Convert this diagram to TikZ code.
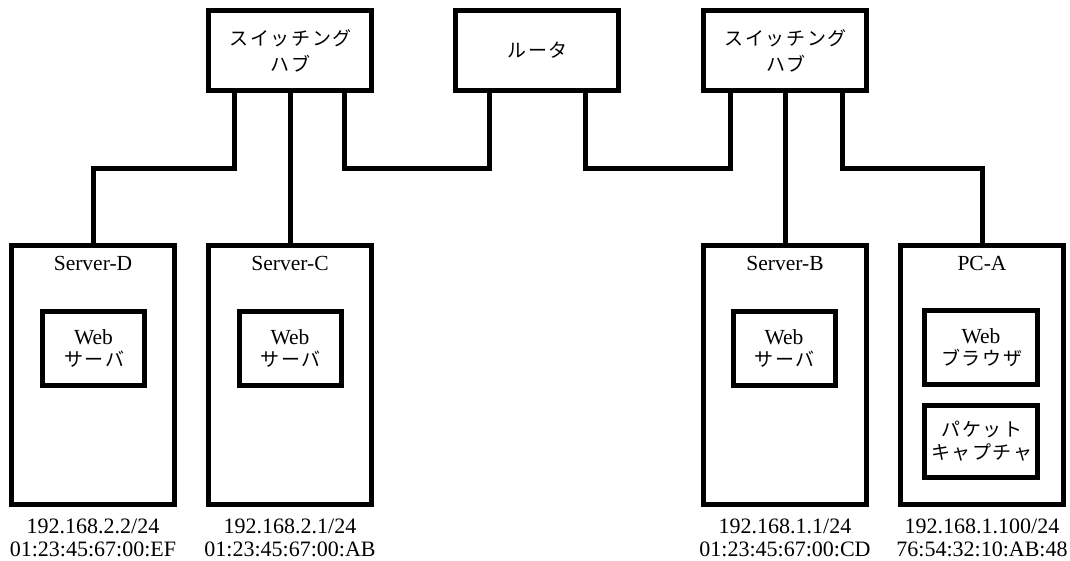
\documentclass[tikz,border=0pt]{standalone}
\usepackage{fontspec}
\setmainfont{Liberation Serif}
\newfontfamily\jpfont{Noto Sans CJK JP}[LetterSpace=8]
\newcommand{\jp}[1]{{\jpfont\fontsize{19}{19}\selectfont #1\kern-1.5pt}}
\begin{document}
\begin{tikzpicture}[x=1pt,y=-1pt,
  box/.style={draw, line width=5pt, minimum width=163pt, minimum height=80pt, inner sep=0pt, align=center, font=\fontsize{21.5}{26}\selectfont},
  host/.style={draw, line width=5pt, minimum width=163pt, minimum height=259pt, inner sep=0pt},
  app/.style={draw, line width=5pt, minimum width=102pt, minimum height=74pt, inner sep=0pt, align=center, font=\fontsize{21.5}{22}\selectfont},
  wire/.style={line width=5pt, line join=miter},
  lbl/.style={inner sep=0pt, font=\fontsize{21.5}{22}\selectfont},
  addr/.style={inner sep=0pt, anchor=base, font=\fontsize{22}{23}\selectfont}]
\useasboundingbox (0,0) rectangle (1070,560);
\fill[white] (0,0) rectangle (1070,560);
\coordinate (bus) at (0,168);
\coordinate (ipl) at (0,533);
\coordinate (macl) at (0,556);
% top devices
\node[box] (hubL) at (290,50.5) {\jp{スイッチング}\\\jp{ハブ}};
\node[box] (router) at (537,50.5) {\jp{ルータ}};
\node[box] (hubR) at (785,50.5) {\jp{スイッチング}\\\jp{ハブ}};
% hosts
\node[host] (srvD) at (93,375) {};
\node[host] (srvC) at (290,375) {};
\node[host] (srvB) at (785,375) {};
\node[host] (pcA) at (982,375) {};
% host labels
\node[lbl] (lD) at ([yshift=-20pt]srvD.north) {Server-D};
\node[lbl] (lC) at ([yshift=-20pt]srvC.north) {Server-C};
\node[lbl] (lB) at ([yshift=-20pt]srvB.north) {Server-B};
\node[lbl] (lA) at ([yshift=-20pt]pcA.north) {PC-A};
% applications
\node[app] (appD) at (93.5,348.5) {Web\\\jp{サーバ}};
\node[app] (appC) at (290,348.5) {Web\\\jp{サーバ}};
\node[app] (appB) at (784,348) {Web\\\jp{サーバ}};
\node[app, minimum width=113pt] (brw) at (981,347.5) {Web\\\jp{ブラウザ}};
\node[app, minimum width=113pt, minimum height=72pt, font=\fontsize{21.5}{23}\selectfont] (cap) at (981,441.5) {\jp{パケット}\\\jp{キャプチャ}};
% addresses
\node[addr] (ipD) at (srvD.south |- ipl) {192.168.2.2/24};
\node[addr] (macD) at (srvD.south |- macl) {01:23:45:67:00:EF};
\node[addr] (ipC) at (srvC.south |- ipl) {192.168.2.1/24};
\node[addr] (macC) at (srvC.south |- macl) {01:23:45:67:00:AB};
\node[addr] (ipB) at (srvB.south |- ipl) {192.168.1.1/24};
\node[addr] (macB) at (srvB.south |- macl) {01:23:45:67:00:CD};
\node[addr] (ipA) at (pcA.south |- ipl) {192.168.1.100/24};
\node[addr] (macA) at (pcA.south |- macl) {76:54:32:10:AB:48};
% wires
\draw[wire] ([xshift=-56pt]hubL.south) -- ([xshift=-56pt]hubL.south |- bus) -| (srvD.north);
\draw[wire] (hubL.south) -- (srvC.north);
\draw[wire] ([xshift=54pt]hubL.south) -- ([xshift=54pt]hubL.south |- bus) -| ([xshift=-48pt]router.south);
\draw[wire] ([xshift=48pt]router.south) -- ([xshift=48pt]router.south |- bus) -| ([xshift=-55pt]hubR.south);
\draw[wire] (hubR.south) -- (srvB.north);
\draw[wire] ([xshift=57pt]hubR.south) -- ([xshift=57pt]hubR.south |- bus) -| (pcA.north);
\end{tikzpicture}
\end{document}
